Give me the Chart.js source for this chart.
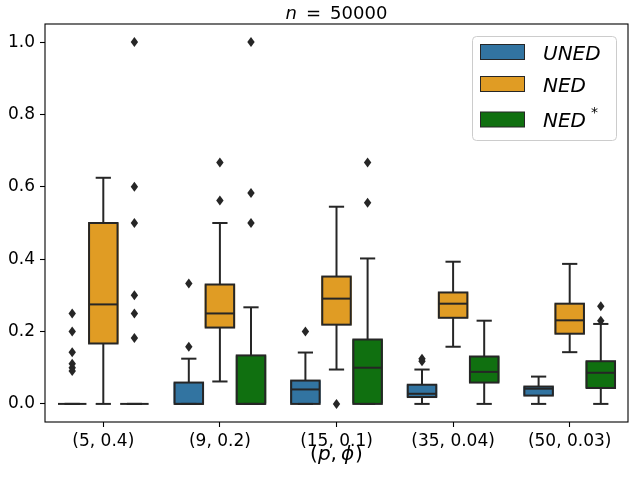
<!DOCTYPE html>
<html>
<head>
<meta charset="utf-8">
<script src="https://cdn.jsdelivr.net/npm/chart.js@4.4.1/dist/chart.umd.min.js"></script>
<style>
	body { margin: 0; background: #fff; }
	canvas { display: block; }
</style>
</head>
<body>
<canvas id="cvs" width="640" height="480"></canvas>
<script>
// categories and tick labels
var categories = ["(5, 0.4)", "(9, 0.2)", "(15, 0.1)", "(35, 0.04)", "(50, 0.03)"];
var seriesNames = ["UNED", "NED", "NED*"];
var yTicks = [0.0, 0.2, 0.4, 0.6, 0.8, 1.0];

// box statistics
var unedLow = [0, 0, 0, 0, 0];
var unedQ1 = [0, 0, 0, 0.019, 0.023];
var unedMedian = [0, 0, 0.04, 0.028, 0.042];
var unedQ3 = [0, 0.059, 0.0645, 0.053, 0.048];
var unedHigh = [0, 0.125, 0.142, 0.095, 0.0755];
var unedOutliers = [[0.25, 0.2, 0.143, 0.111, 0.1, 0.091], [0.333, 0.158], [0.2], [0.125, 0.118], []];

var nedLow = [0, 0.062, 0.095, 0.158, 0.143];
var nedQ1 = [0.167, 0.211, 0.219, 0.238, 0.194];
var nedMedian = [0.275, 0.25, 0.291, 0.277, 0.231];
var nedQ3 = [0.5, 0.33, 0.352, 0.308, 0.277];
var nedHigh = [0.625, 0.5, 0.545, 0.393, 0.387];
var nedOutliers = [[], [0.667, 0.562], [0], [], []];

var nedsLow = [0, 0, 0, 0, 0];
var nedsQ1 = [0, 0, 0, 0.059, 0.044];
var nedsMedian = [0, 0, 0.1, 0.0885, 0.086];
var nedsQ3 = [0, 0.134, 0.178, 0.131, 0.118];
var nedsHigh = [0, 0.267, 0.402, 0.23, 0.221];
var nedsOutliers = [[1.0, 0.6, 0.5, 0.3, 0.25, 0.182], [1.0, 0.583, 0.5], [0.667, 0.556], [], [0.27, 0.23]];

var colors = ["#3274a1", "#e09c24", "#107010"];
var lineColor = "#262626";
var FONT = "\"DejaVu Sans\", sans-serif";

var series = [
	{ low: unedLow, q1: unedQ1, med: unedMedian, q3: unedQ3, high: unedHigh, out: unedOutliers },
	{ low: nedLow, q1: nedQ1, med: nedMedian, q3: nedQ3, high: nedHigh, out: nedOutliers },
	{ low: nedsLow, q1: nedsQ1, med: nedsMedian, q3: nedsQ3, high: nedsHigh, out: nedsOutliers }
];

function seg(ctx, x1, y1, x2, y2) {
	ctx.beginPath();
	ctx.moveTo(x1, y1);
	ctx.lineTo(x2, y2);
	ctx.stroke();
}

// draw pieces of mixed italic / upright text, centred on cx; p = [text, italic, gapAfter]
function mixedText(ctx, parts, cx, baseline, size) {
	var total = 0;
	parts.forEach(function(p) {
		ctx.font = (p[1] ? "italic " : "") + size + "px " + FONT;
		total += ctx.measureText(p[0]).width + (p[2] || 0);
	});
	var x = cx - total / 2;
	ctx.textAlign = "left";
	ctx.textBaseline = "alphabetic";
	parts.forEach(function(p) {
		ctx.font = (p[1] ? "italic " : "") + size + "px " + FONT;
		ctx.fillText(p[0], x, baseline);
		x += ctx.measureText(p[0]).width + (p[2] || 0);
	});
}

var boxPlugin = {
	id: "boxExtras",
	afterDatasetsDraw: function(chart) {
		var ctx = chart.ctx;
		var y = chart.scales.y;
		ctx.save();
		ctx.strokeStyle = lineColor;
		ctx.fillStyle = lineColor;
		ctx.lineWidth = 2;
		series.forEach(function(s, i) {
			var meta = chart.getDatasetMeta(i);
			meta.data.forEach(function(bar, j) {
				var x = bar.x, w = bar.width;
				var pHigh = y.getPixelForValue(s.high[j]);
				var pLow = y.getPixelForValue(s.low[j]);
				var pQ1 = y.getPixelForValue(s.q1[j]);
				var pQ3 = y.getPixelForValue(s.q3[j]);
				var pMed = y.getPixelForValue(s.med[j]);
				if (pQ1 - pQ3 > 0.5) {
					ctx.strokeRect(x - w / 2 + 1, pQ3, w - 2, pQ1 - pQ3);
				}
				seg(ctx, x, pQ3, x, pHigh);
				seg(ctx, x, pQ1, x, pLow);
				seg(ctx, x - w / 4, pHigh, x + w / 4, pHigh);
				seg(ctx, x - w / 4, pLow, x + w / 4, pLow);
				seg(ctx, x - w / 2 + 1, pMed, x + w / 2 - 1, pMed);
				s.out[j].forEach(function(v) {
					var py = y.getPixelForValue(v);
					ctx.beginPath();
					ctx.moveTo(x, py - 5);
					ctx.lineTo(x + 3.7, py);
					ctx.lineTo(x, py + 5);
					ctx.lineTo(x - 3.7, py);
					ctx.closePath();
					ctx.fill();
				});
			});
		});
		ctx.restore();
	},
	afterDraw: function(chart) {
		var ctx = chart.ctx;
		var a = chart.chartArea;
		ctx.save();
		// frame
		ctx.strokeStyle = "#000";
		ctx.lineWidth = 1.1;
		ctx.strokeRect(a.left, a.top, a.right - a.left, a.bottom - a.top);

		ctx.fillStyle = "#000";
		var cx = (a.left + a.right) / 2;
		mixedText(ctx, [["n", true, 9], ["=", false, 9], ["50000", false, 0]], cx, 19, 18);
		mixedText(ctx, [["(", false], ["p", true], [",", false, 4], ["\u03d5", true, 1], [")", false]], cx, 460, 20);

		// legend
		var lx = 472, ly = 36, lw = 144, lh = 104;
		ctx.fillStyle = "rgba(255,255,255,0.8)";
		ctx.strokeStyle = "#cccccc";
		ctx.lineWidth = 1;
		ctx.beginPath();
		ctx.roundRect(lx + 0.5, ly + 0.5, lw, lh, 4);
		ctx.fill();
		ctx.stroke();
		var rows = [52, 84, 119.5];
		seriesNames.forEach(function(name, i) {
			ctx.fillStyle = colors[i];
			ctx.fillRect(480.5, rows[i] - 7.5, 44, 15);
			ctx.strokeStyle = lineColor;
			ctx.strokeRect(480.5, rows[i] - 7.5, 44, 15);
			ctx.fillStyle = "#000";
			ctx.textAlign = "left";
			ctx.textBaseline = "alphabetic";
			ctx.font = "italic 20px " + FONT;
			var base = name.replace("*", "");
			ctx.fillText(base, 543, rows[i] + 7.5);
			if (name.indexOf("*") >= 0) {
				var wb = ctx.measureText(base).width;
				ctx.font = "14px " + FONT;
				ctx.fillText("*", 543 + wb + 5, rows[i] - 3);
			}
		});
		ctx.restore();
	}
};

var datasets = series.map(function(s, i) {
	return {
		label: seriesNames[i],
		data: s.q1.map(function(v, j) { return [v, s.q3[j]]; }),
		backgroundColor: colors[i],
		borderWidth: 0,
		categoryPercentage: 0.8,
		barPercentage: 0.98
	};
});

new Chart(document.getElementById("cvs"), {
	type: "bar",
	data: {
		labels: categories,
		datasets: datasets
	},
	options: {
		responsive: false,
		animation: false,
		events: [],
		layout: { padding: { left: 0, right: 12, top: 24, bottom: 0 } },
		plugins: {
			legend: { display: false },
			tooltip: { enabled: false },
			title: { display: false }
		},
		scales: {
			x: {
				grid: { display: true, drawOnChartArea: false, offset: false, tickLength: 5, color: "#000", tickWidth: 1.1 },
				border: { display: false },
				ticks: { color: "#000", padding: 4, font: { family: FONT, size: 17 }, maxRotation: 0 },
				afterFit: function(scale) { scale.height = 58; }
			},
			y: {
				min: -0.05,
				max: 1.05,
				grid: { display: true, drawOnChartArea: false, tickLength: 5, color: "#000", tickWidth: 1.1 },
				border: { display: false },
				ticks: {
					color: "#000",
					padding: 5,
					font: { family: FONT, size: 17 },
					callback: function(v) { return Number(v).toFixed(1); }
				},
				afterBuildTicks: function(scale) {
					scale.ticks = yTicks.map(function(v) { return { value: v }; });
				},
				afterFit: function(scale) { scale.width = 45; }
			}
		}
	},
	plugins: [boxPlugin]
});
</script>
</body>
</html>
